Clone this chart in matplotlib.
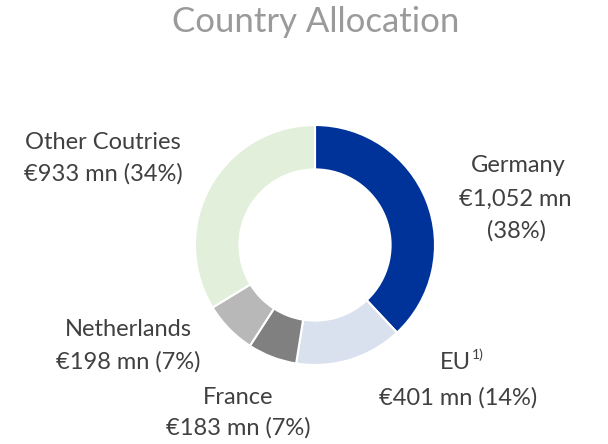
import matplotlib
matplotlib.use("Agg")
import matplotlib.pyplot as plt

countries = ["Germany", "EU", "France", "Netherlands", "Other Coutries"]
values = [1052, 401, 183, 198, 933]
value_labels = ["€1,052 mn", "€401 mn", "€183 mn", "€198 mn", "€933 mn"]
pct_labels = ["(38%)", "(14%)", "(7%)", "(7%)", "(34%)"]
colors = ["#003399", "#DAE1EE", "#808080", "#B8B8B8", "#E2EFDA"]
title = "Country Allocation"

W, H = 608, 444
fig = plt.figure(figsize=(W / 100, H / 100), dpi=100)
plt.rcParams['font.family'] = ['Lato', 'DejaVu Sans']

cx, cy, r = 315, 245, 120
ax = fig.add_axes([(cx - r) / W, (H - cy - r) / H, 2 * r / W, 2 * r / H])
ax.pie(values, colors=colors, startangle=90, counterclock=False, radius=1,
       wedgeprops=dict(width=0.37, edgecolor="white", linewidth=1.5))
ax.set_aspect("equal")
ax.set_xlim(-1, 1)
ax.set_ylim(-1, 1)
ax.axis("off")

def t(x, y, s, size=17, color="#404040", ha="center", **kw):
    fig.text(x / W, 1 - y / H, s, ha=ha, va="center", fontsize=size, color=color, **kw)

t(316, 22, title, size=25, color="#9A9A9A")

# Germany
t(518, 165, countries[0])
t(515, 199, value_labels[0])
t(517, 231, pct_labels[0])
# EU
t(455, 362, countries[1])
t(472, 355, "1)", size=10, ha="left")
t(458, 398, value_labels[1] + " " + pct_labels[1])
# France
t(238, 397, countries[2])
t(238, 428, value_labels[2] + " " + pct_labels[2])
# Netherlands
t(128, 330, countries[3])
t(128, 362, value_labels[3] + " " + pct_labels[3])
# Other
t(103, 142, countries[4])
t(103, 174, value_labels[4] + " " + pct_labels[4])

fig.savefig("out.png", dpi=100)
